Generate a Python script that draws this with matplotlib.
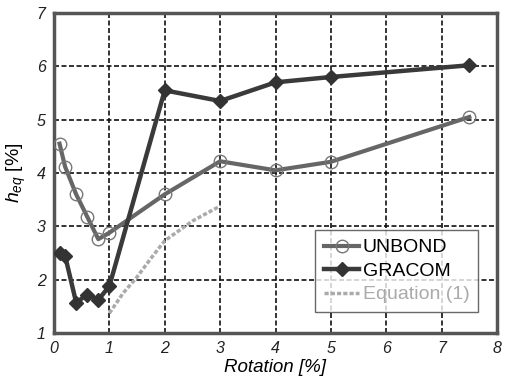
import matplotlib.pyplot as plt

plt.rcParams['font.family'] = ['Liberation Sans', 'DejaVu Sans']
plt.rcParams['mathtext.fontset'] = 'custom'
plt.rcParams['mathtext.it'] = 'Liberation Sans:italic'
plt.rcParams['mathtext.rm'] = 'Liberation Sans'

# values
unbond_x = [0.1, 0.2, 0.4, 0.6, 0.8, 1.0, 2, 3, 4, 5, 7.5]
unbond_y = [4.55, 4.12, 3.6, 3.18, 2.76, 2.88, 3.6, 4.22, 4.05, 4.21, 5.05]

gracom_x = [0.1, 0.2, 0.4, 0.6, 0.8, 1.0, 2, 3, 4, 5, 7.5]
gracom_y = [2.5, 2.45, 1.57, 1.72, 1.62, 1.88, 5.55, 5.35, 5.7, 5.8, 6.02]

eq_x = [1.0, 1.25, 1.5, 1.75, 2.0, 2.5, 3.0]
eq_y = [1.37, 1.75, 2.05, 2.4, 2.73, 3.1, 3.38]

fig = plt.figure(figsize=(5.07, 3.81), dpi=100)
ax = fig.add_axes([54 / 507, 48 / 381, 443 / 507, 320 / 381])

ax.plot(unbond_x, unbond_y, color='#666666', lw=3, marker='o', ms=9,
        mfc='none', mec='#777777', mew=1.0, label='UNBOND', zorder=3)
ax.plot(gracom_x, gracom_y, color='#3a3a3a', lw=3.2, marker='D', ms=7.5,
        mfc='#333333', mec='#333333', label='GRACOM', zorder=4)
ax.plot(eq_x, eq_y, color='#aaaaaa', lw=2.5, ls=(0, (1.2, 0.6)),
        label='Equation (1)', zorder=2)

ax.set_xlim(0, 8)
ax.set_ylim(1, 7)
ax.set_xticks(range(0, 9))
ax.set_yticks(range(1, 8))
ax.grid(True, color='#111111', ls=(0, (3, 1.5)), lw=1.2)
ax.tick_params(length=0, labelsize=11.5, pad=6)
for lab in ax.get_xticklabels() + ax.get_yticklabels():
    lab.set_fontstyle('italic')
    lab.set_color('#222222')
for s in ax.spines.values():
    s.set_linewidth(2.5)
    s.set_color('#555555')

ax.set_xlabel('Rotation [%]', fontsize=13.5, fontstyle='italic', labelpad=2)
ax.set_ylabel(r'$h_{eq}$ [%]', fontsize=14, labelpad=6)

leg = ax.legend(loc='lower right', bbox_to_anchor=(0.98, 0.035), fontsize=14,
                frameon=True, fancybox=False, edgecolor='#444444',
                handlelength=1.8, handletextpad=0.2, borderpad=0.45,
                labelspacing=0.3)
leg.get_frame().set_linewidth(1.0)
leg.get_texts()[2].set_color('#aaaaaa')

fig.savefig('out.png', dpi=100)
